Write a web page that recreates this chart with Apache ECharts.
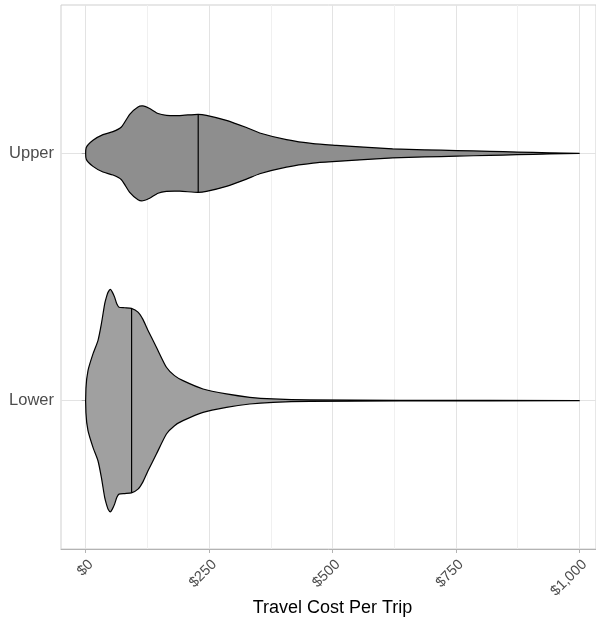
<!DOCTYPE html>
<html>
<head>
<meta charset="utf-8">
<script src="https://cdn.jsdelivr.net/npm/echarts@6/dist/echarts.min.js"></script>
<style>html,body{margin:0;padding:0;background:#fff;}#main{width:596px;height:623px;}</style>
</head>
<body>
<div id="main"></div>
<script>
const categories = ['Lower', 'Upper'];
const xTicks = [0, 250, 500, 750, 1000];
const xMinorTicks = [125, 375, 625, 875];

// Lower group: travel cost grid and relative density (max = 1)
const lowerCost = [0.5, 4.7, 14.8, 24.9, 31.8, 38.5, 42, 45.2, 50.1, 54, 58.8, 63, 67.5, 79.1, 92.6, 106, 116, 126.3, 143.3, 163.6, 180, 197.2, 237.8, 285.2, 332.5, 379.7, 454, 636, 1000];
const lowerDensity = [0.11, 0.27, 0.42, 0.54, 0.69, 0.87, 0.93, 0.973, 1.0, 0.975, 0.928, 0.87, 0.84, 0.835, 0.829, 0.795, 0.73, 0.631, 0.48, 0.30, 0.225, 0.18, 0.105, 0.06, 0.03, 0.015, 0.006, 0.003, 0.001];

// Upper group
const upperCost = [1, 14.8, 35, 55.3, 72.4, 89.2, 106, 116, 129.7, 146.6, 163.6, 190.6, 227.6, 244.7, 285, 325.8, 352.7, 406.9, 460.8, 508.2, 555, 622, 687, 752, 819, 874, 940, 1000];
const upperDensity = [0.05, 0.117, 0.168, 0.195, 0.237, 0.351, 0.417, 0.426, 0.403, 0.358, 0.342, 0.34, 0.351, 0.342, 0.297, 0.232, 0.183, 0.123, 0.087, 0.072, 0.059, 0.041, 0.032, 0.025, 0.018, 0.012, 0.005, 0.001];

const medians = [93, 228];

const groups = [
  { cost: lowerCost, dens: lowerDensity, median: medians[0], fill: '#a0a0a0' },
  { cost: upperCost, dens: upperDensity, median: medians[1], fill: '#8e8e8e' }
];
const maxHalfWidth = 0.45; // violin width 0.9 in category units

function interp(xs, ys, x) {
  if (x <= xs[0]) return ys[0];
  for (let i = 1; i < xs.length; i++) {
    if (x <= xs[i]) {
      const t = (x - xs[i - 1]) / (xs[i] - xs[i - 1]);
      return ys[i - 1] + t * (ys[i] - ys[i - 1]);
    }
  }
  return ys[ys.length - 1];
}

const chart = echarts.init(document.getElementById('main'), null, { renderer: 'canvas' });
const FONT = 'Liberation Sans, Arial, sans-serif';

chart.setOption({
  backgroundColor: '#ffffff',
  animation: false,
  grid: { left: 61, right: 0, top: 5, bottom: 74, show: true, borderColor: '#cfcfcf', borderWidth: 1,
          containLabel: false, outerBoundsMode: 'none' },
  xAxis: [
    {
      type: 'value', min: -50, max: 1034,
      name: 'Travel Cost Per Trip', nameLocation: 'middle', nameGap: 50, nameMoveOverlap: false,
      nameTextStyle: { fontFamily: FONT, fontSize: 18, color: '#000', padding: [0, 0, 0, 8] },
      axisLine: { show: true, lineStyle: { color: '#b3b3b3', width: 1 } },
      axisTick: { show: true, length: 4, customValues: xTicks, lineStyle: { color: '#b3b3b3' } },
      axisLabel: {
        customValues: xTicks, rotate: 45, margin: 8, align: 'right', verticalAlign: 'top',
        fontFamily: FONT, fontSize: 14.5, color: '#4d4d4d',
        formatter: v => '$' + Number(v).toLocaleString('en-US')
      },
      splitLine: { show: true, lineStyle: { color: '#e3e3e3', width: 1 } }
    },
    {
      type: 'value', min: -50, max: 1034, position: 'bottom',
      axisLine: { show: false },
      axisTick: { show: false, customValues: xMinorTicks },
      axisLabel: { show: false, customValues: xMinorTicks },
      splitLine: { show: true, lineStyle: { color: '#f0f0f0', width: 1 } }
    }
  ],
  yAxis: {
    type: 'value', min: 0.4, max: 2.6,
    axisLine: { show: false },
    axisTick: { show: true, length: 4, customValues: [1, 2], lineStyle: { color: '#b3b3b3' } },
    axisLabel: {
      customValues: [1, 2], margin: 7,
      fontFamily: FONT, fontSize: 16.5, color: '#4d4d4d',
      formatter: v => categories[Math.round(v) - 1]
    },
    splitLine: { show: true, lineStyle: { color: '#e3e3e3', width: 1 } }
  },
  series: [{
    type: 'custom',
    coordinateSystem: 'cartesian2d',
    xAxisIndex: 0, yAxisIndex: 0,
    clip: true,
    data: [[0, 1], [1, 2]],
    encode: { x: 0, y: 1 },
    renderItem: function (params, api) {
      const gi = api.value(0);
      const yc = api.value(1);
      const g = groups[gi];
      const top = [], bottom = [];
      for (let i = 0; i < g.cost.length; i++) {
        const h = g.dens[i] * maxHalfWidth;
        top.push(api.coord([g.cost[i], yc + h]));
        bottom.push(api.coord([g.cost[i], yc - h]));
      }
      const pts = top.concat(bottom.reverse());
      const hm = interp(g.cost, g.dens, g.median) * maxHalfWidth;
      const m1 = api.coord([g.median, yc + hm]);
      const m2 = api.coord([g.median, yc - hm]);
      return {
        type: 'group',
        children: [
          { type: 'polygon', shape: { points: pts, smooth: 0.2 },
            style: { fill: g.fill, stroke: '#000', lineWidth: 1.2 } },
          { type: 'line', shape: { x1: m1[0], y1: m1[1], x2: m2[0], y2: m2[1] },
            style: { stroke: '#000', lineWidth: 1.2 } }
        ]
      };
    }
  }]
});
</script>
</body>
</html>
